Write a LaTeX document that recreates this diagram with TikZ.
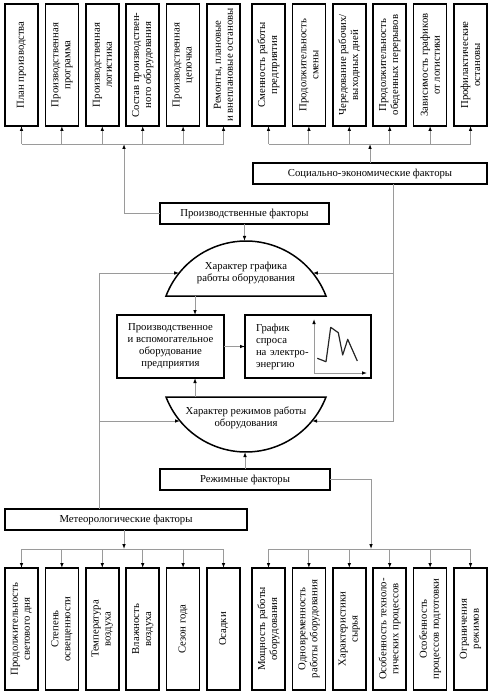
\documentclass[tikz,border=0pt]{standalone}
\usepackage{fontspec}
\setmainfont{Liberation Serif}
\usepackage{graphicx}
\definecolor{LineGray}{HTML}{9A9A9A}
\usetikzlibrary{arrows.meta,positioning,calc}
\def\vl{116pt}
\newcommand{\vlabel}[1]{\rotatebox{90}{\parbox{\vl}{\centering #1}}}

\begin{document}
\begin{tikzpicture}
[x=1pt,y=-1pt,node distance=7.4pt,font=\fontsize{10.7}{12}\selectfont,
   vbox/.style={rectangle,draw=black,line width=1.5pt,minimum width=33pt,
   minimum height=122pt,inner sep=0pt,outer sep=0pt,anchor=north west},
   hbox/.style={rectangle,draw=black,line width=1.5pt,minimum height=21pt,
   inner sep=0pt,outer sep=0pt},
   dome/.style={draw=black,line width=1.5pt},
   lb/.style={text=black,align=center},
   line/.style={draw=LineGray,line width=0.9pt},
   arr/.style={line,-{Latex[color=black,length=5pt,width=3.6pt]}}]
\useasboundingbox (0,0) rectangle (496,692);

% production factors
\node[vbox] (plan) at (5,4) {\vlabel{План производства}};
\node[vbox,right=of plan] (prog) {\vlabel{Производственная\\программа}};
\node[vbox,right=of prog] (logist) {\vlabel{Производственная\\логистика}};
\node[vbox,right=of logist] (sostav) {\vlabel{Состав производствен-\\ного оборудования}};
\node[vbox,right=of sostav] (chain) {\vlabel{Производственная\\цепочка}};
\node[vbox,right=of chain] (repair) {\vlabel{Ремонты, плановые\\и внеплановые остановы}};

% social factors
\node[vbox] (shifts) at (252,4) {\vlabel{Сменность работы\\предприятия}};
\node[vbox,right=of shifts] (shiftlen) {\vlabel{Продолжительность\\смены}};
\node[vbox,right=of shiftlen] (alternate) {\vlabel{Чередование рабочих/\\выходных дней}};
\node[vbox,right=of alternate] (breaks) {\vlabel{Продолжительность\\обеденных перерывов}};
\node[vbox,right=of breaks] (logdep) {\vlabel{Зависимость графиков\\от логистики}};
\node[vbox,right=of logdep] (prevent) {\vlabel{Профилактические\\остановы}};

% meteo factors
\node[vbox] (daylen) at (5,568) {\vlabel{Продолжительность\\светового дня}};
\node[vbox,right=of daylen] (light) {\vlabel{Степень\\освещенности}};
\node[vbox,right=of light] (temp) {\vlabel{Температура\\воздуха}};
\node[vbox,right=of temp] (humid) {\vlabel{Влажность\\воздуха}};
\node[vbox,right=of humid] (season) {\vlabel{Сезон года}};
\node[vbox,right=of season] (precip) {\vlabel{Осадки}};

% regime factors
\node[vbox] (power) at (252,568) {\vlabel{Мощность работы\\оборудования}};
\node[vbox,right=of power] (simult) {\vlabel{Одновременность\\работы оборудования}};
\node[vbox,right=of simult] (raw) {\vlabel{Характеристики\\сырья}};
\node[vbox,right=of raw] (techproc) {\vlabel{Особенность техноло-\\гических процессов}};
\node[vbox,right=of techproc] (prep) {\vlabel{Особенность\\процессов подготовки}};
\node[vbox,right=of prep] (limits) {\vlabel{Ограничения\\режимов}};

\node[hbox,minimum width=234pt] (social) at (370,173.5) {Социально-экономические факторы};
\node[hbox,minimum width=169pt] (prodfac) at (244.5,213.5) {Производственные факторы};
\node[hbox,minimum width=170pt] (regfac) at (245,479.5) {Режимные факторы};
\node[hbox,minimum width=242pt] (meteo) at (126,519.5) {Метеорологические факторы};

\node[hbox,lb,minimum width=107pt,minimum height=63pt] (equip) at (170.5,346.5)
{Производственное\\и вспомогательное\\оборудование\\предприятия};
\node[hbox,right=21pt of equip,align=left,text width=104pt,inner xsep=11pt,
minimum height=63pt] (demand) {График\\спроса\\на электро-\\энергию};

% demand chart
\draw[line,-{Latex[color=black,length=5pt,width=3.6pt]}] (314,373) -- (314,319);
\draw[line,-{Latex[color=black,length=5pt,width=3.6pt]}] (314,373) -- (367,373);
\draw[black!85,line width=1.2pt,line join=round] (317.3,358.3) -- (326,361.7)
-- (330.7,327.3) -- (338.3,332.7) -- (342.7,355) -- (347.7,339.3) -- (357.3,361);

% domes
\draw[dome] (166,296) arc[start angle=-159,end angle=-21,radius=85.68] -- cycle;
\node[lb] (schedule) at (246,273) {Характер графика\\работы оборудования};
\draw[dome] (326,397) arc[start angle=21,end angle=159,radius=85.68] -- cycle;
\node[lb] (regime) at (246,418) {Характер режимов работы\\оборудования};
\coordinate (sched-n) at (246,241);
\coordinate (sched-s) at (195,296);
\coordinate (sched-w) at (179.2,273);
\coordinate (sched-e) at (312.8,273);
\coordinate (reg-n) at (195,397);
\coordinate (reg-s) at (246,452);
\coordinate (reg-w) at (180,421);
\coordinate (reg-e) at (312,421);

% buses
\coordinate (busL) at (124,144);
\coordinate (busR) at (370,144);
\coordinate (busML) at (124,549);
\coordinate (busRF) at (371,549);
\coordinate (jl) at (99,421);
\coordinate (jr) at (393,273);

\draw[arr] (prodfac.west) -| (busL);
\draw[line] (plan.south |- busL) -- (repair.south |- busL);
\path (plan.south |- busL) edge[arr] (plan.south)
(prog.south |- busL) edge[arr] (prog.south)
(logist.south |- busL) edge[arr] (logist.south)
(sostav.south |- busL) edge[arr] (sostav.south)
(chain.south |- busL) edge[arr] (chain.south)
(repair.south |- busL) edge[arr] (repair.south);

\draw[arr] (social.north) -- (busR);
\draw[line] (shifts.south |- busR) -- (prevent.south |- busR);
\path (shifts.south |- busR) edge[arr] (shifts.south)
(shiftlen.south |- busR) edge[arr] (shiftlen.south)
(alternate.south |- busR) edge[arr] (alternate.south)
(breaks.south |- busR) edge[arr] (breaks.south)
(logdep.south |- busR) edge[arr] (logdep.south)
(prevent.south |- busR) edge[arr] (prevent.south);

\draw[arr] (meteo.south -| busML) -- (busML);
\draw[line] (daylen.north |- busML) -- (precip.north |- busML);
\path (daylen.north |- busML) edge[arr] (daylen.north)
(light.north |- busML) edge[arr] (light.north)
(temp.north |- busML) edge[arr] (temp.north)
(humid.north |- busML) edge[arr] (humid.north)
(season.north |- busML) edge[arr] (season.north)
(precip.north |- busML) edge[arr] (precip.north);

\draw[arr] (regfac.east) -| (busRF);
\draw[line] (power.north |- busRF) -- (limits.north |- busRF);
\path (power.north |- busRF) edge[arr] (power.north)
(simult.north |- busRF) edge[arr] (simult.north)
(raw.north |- busRF) edge[arr] (raw.north)
(techproc.north |- busRF) edge[arr] (techproc.north)
(prep.north |- busRF) edge[arr] (prep.north)
(limits.north |- busRF) edge[arr] (limits.north);

% factors to domes
\draw[arr] (prodfac.south) -- (prodfac.south |- sched-n);
\draw[arr] (regfac.north) -- (regfac.north |- reg-s);
\draw[arr] (meteo.north -| jl) |- (sched-w);
\draw[arr] (jl) -- (reg-w);
\draw[arr] (social.south -| jr) |- (reg-e);
\draw[arr] (jr) -- (sched-e);
\draw[arr] (sched-s) -- (sched-s |- equip.north);
\draw[arr] (reg-n) -- (reg-n |- equip.south);
\draw[arr] (equip) -- (demand);
%%
\end{tikzpicture}
\end{document}
